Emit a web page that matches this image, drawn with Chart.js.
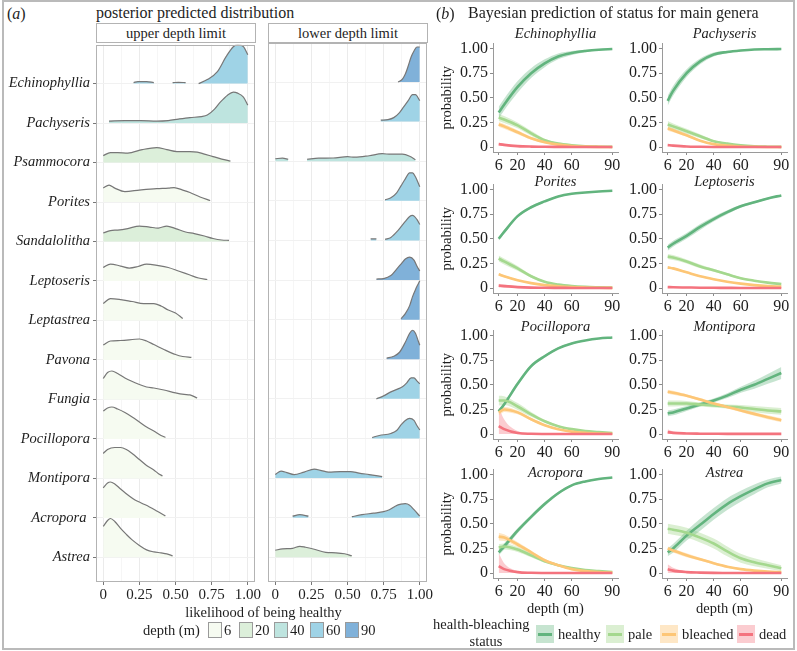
<!DOCTYPE html>
<html>
<head>
<meta charset="utf-8">
<title>Coral health by depth</title>
<script src="https://cdn.jsdelivr.net/npm/chart.js@4.4.1/dist/chart.umd.min.js"></script>
<style>
  body { margin: 0; background: #fff; }
  #fig { position: relative; width: 797px; height: 651px; overflow: hidden; background: #fff;
         font-family: "Liberation Serif", "DejaVu Serif", serif; color: #1e1e1e; }
  #fig canvas { position: absolute; }
  .txt { position: absolute; white-space: nowrap; line-height: 1; }
  .frame { position: absolute; left: 2px; top: 0; width: 793px; height: 650px; box-sizing: border-box;
           border: 2px solid #bababa; }
  .strip { position: absolute; top: 23px; height: 20px; width: 160px; box-sizing: border-box;
           border: 1px solid #b3b3b3; background: #fff; text-align: center; font-size: 14.5px; line-height: 18px; }
  .key { position: absolute; box-sizing: border-box; }
</style>
</head>
<body>
<div id="fig">
  <div class="frame"></div>
  <div class="strip" style="left:96px">upper depth limit</div>
  <div class="strip" style="left:268px">lower depth limit</div>
</div>
<script>
// ---------- panel (a): posterior predicted distribution (ridges) ----------
const genera = ['Echinophyllia', 'Pachyseris', 'Psammocora', 'Porites', 'Sandalolitha', 'Leptoseris',
  'Leptastrea', 'Pavona', 'Fungia', 'Pocillopora', 'Montipora', 'Acropora ', 'Astrea'];
const ridgeTicks = [0, 0.25, 0.5, 0.75, 1];
const ridgeGrid = [0, 0.125, 0.25, 0.375, 0.5, 0.625, 0.75, 0.875, 1];
const depthLevels = [6, 20, 40, 60, 90];
// depth class of each ridge (same order as genera)
const upperDepth = [60, 40, 20, 6, 20, 6, 6, 6, 6, 6, 6, 6, 6];
const lowerDepth = [90, 60, 40, 60, 60, 90, 90, 90, 60, 60, 60, 60, 20];

// [likelihood, density]; a null density breaks the ridge
const upperRidges = [
  [[0.21,0.1],[0.24,0.2],[0.3,0.2],[0.35,0.1],[0.42,null],[0.48,0.1],[0.52,0.12],[0.57,0.1],[0.62,null],[0.66,0],[0.72,0.4],[0.79,1.2],[0.85,2.7],[0.9,3.7],[0.93,3.9],[0.97,3.7],[1,2.9]],
  [[0.04,0.2],[0.15,0.25],[0.26,0.25],[0.37,0.2],[0.45,0.25],[0.52,0.4],[0.6,0.55],[0.68,0.65],[0.72,0.8],[0.77,1.4],[0.81,2.1],[0.86,2.8],[0.9,3.1],[0.93,3.0],[0.97,2.6],[1,1.8]],
  [[0,0.7],[0.05,1.0],[0.1,1.0],[0.17,0.95],[0.27,1.3],[0.37,1.5],[0.44,1.3],[0.51,1.1],[0.6,1.1],[0.65,1.05],[0.7,0.85],[0.76,0.6],[0.82,0.35],[0.88,0.15]],
  [[0,1.4],[0.04,1.7],[0.08,1.4],[0.15,1.05],[0.25,1.2],[0.37,1.35],[0.45,1.4],[0.49,1.45],[0.55,1.2],[0.6,0.95],[0.67,0.5],[0.74,0.15]],
  [[0,0.85],[0.05,1.1],[0.1,1.15],[0.17,1.3],[0.25,1.55],[0.32,1.45],[0.38,1.35],[0.44,1.55],[0.5,1.3],[0.57,0.95],[0.63,0.8],[0.7,0.55],[0.76,0.3],[0.82,0.15],[0.87,0.12]],
  [[0,1.35],[0.05,1.7],[0.12,1.5],[0.18,1.3],[0.24,1.45],[0.3,1.7],[0.38,1.55],[0.45,1.35],[0.52,1.0],[0.6,0.6],[0.66,0.3],[0.72,0.15]],
  [[0,1.7],[0.05,2.2],[0.12,2.1],[0.2,1.9],[0.28,1.7],[0.35,1.7],[0.4,1.45],[0.45,1.05],[0.5,0.75],[0.55,0.2]],
  [[0,1.5],[0.05,1.9],[0.12,1.95],[0.25,2.1],[0.3,1.9],[0.35,1.55],[0.42,1.05],[0.5,0.55],[0.55,0.35],[0.61,0.25]],
  [[0,2.1],[0.03,2.7],[0.06,2.85],[0.1,2.6],[0.15,2.15],[0.25,1.5],[0.3,1.25],[0.35,1.15],[0.42,0.95],[0.5,0.65],[0.56,0.5],[0.6,0.45],[0.65,0.15]],
  [[0,2.8],[0.03,3.1],[0.06,3.2],[0.1,3.0],[0.15,2.65],[0.2,2.2],[0.25,1.7],[0.3,1.2],[0.35,0.8],[0.4,0.35],[0.43,0.15]],
  [[0,2.5],[0.03,2.9],[0.08,3.1],[0.12,3.1],[0.16,2.9],[0.2,2.5],[0.25,1.9],[0.3,1.3],[0.35,0.85],[0.38,0.5],[0.41,0.25]],
  [[0,3.0],[0.03,3.5],[0.05,3.6],[0.08,3.4],[0.12,2.9],[0.18,2.2],[0.22,1.8],[0.27,1.45],[0.32,1.1],[0.37,0.7],[0.43,0.2]],
  [[0,3.1],[0.03,3.7],[0.05,3.9],[0.08,3.6],[0.12,2.9],[0.16,2.3],[0.2,1.75],[0.25,1.2],[0.3,0.75],[0.35,0.55],[0.4,0.45],[0.44,0.35],[0.48,0.15]]
];
const lowerRidges = [
  [[0.85,0],[0.88,0.3],[0.9,0.8],[0.92,1.6],[0.94,2.5],[0.96,3.1],[0.98,3.5],[1,3.5]],
  [[0.73,0.15],[0.78,0.2],[0.82,0.4],[0.86,0.9],[0.89,1.5],[0.92,2.1],[0.95,2.7],[0.97,2.7],[1,2.1]],
  [[0,0.25],[0.05,0.3],[0.09,0.2],[0.15,null],[0.22,0.2],[0.3,0.3],[0.4,0.32],[0.5,0.45],[0.55,0.4],[0.65,0.55],[0.74,0.75],[0.8,0.7],[0.88,0.7],[0.93,0.5],[0.97,0.15]],
  [[0.76,0.1],[0.8,0.3],[0.84,0.8],[0.87,1.5],[0.9,2.2],[0.93,2.8],[0.95,2.8],[0.97,2.4],[1,1.4]],
  [[0.66,0.15],[0.7,0.15],[0.73,null],[0.76,0.1],[0.8,0.3],[0.85,1.0],[0.9,1.9],[0.93,2.4],[0.95,2.5],[0.98,2.1],[1,1.6]],
  [[0.7,0.1],[0.75,0.15],[0.8,0.45],[0.84,1.1],[0.87,1.6],[0.9,2.1],[0.93,2.3],[0.96,2.0],[0.98,1.4],[1,0.9]],
  [[0.87,0.1],[0.9,0.6],[0.93,1.4],[0.95,2.3],[0.97,3.0],[0.99,3.6],[1,3.9]],
  [[0.77,0.1],[0.82,0.3],[0.86,0.7],[0.9,1.7],[0.93,2.6],[0.95,2.9],[0.97,2.6],[0.99,1.8],[1,1.4]],
  [[0.7,0],[0.75,0.3],[0.8,0.7],[0.85,1.0],[0.88,1.2],[0.91,1.6],[0.94,2.1],[0.96,2.1],[0.98,1.8],[1,1.5]],
  [[0.67,0.1],[0.72,0.3],[0.8,0.5],[0.84,0.8],[0.87,1.35],[0.9,1.8],[0.93,2.0],[0.96,1.8],[0.98,1.3],[1,0.85]],
  [[0,0.35],[0.04,0.7],[0.08,0.55],[0.13,0.35],[0.2,0.6],[0.27,0.9],[0.32,0.75],[0.37,0.6],[0.45,0.65],[0.52,0.65],[0.58,0.5],[0.65,0.35],[0.74,0.15]],
  [[0.12,0.15],[0.17,0.3],[0.23,0.15],[0.4,null],[0.53,0.1],[0.6,0.3],[0.68,0.45],[0.75,0.6],[0.79,0.8],[0.83,1.15],[0.87,1.35],[0.9,1.4],[0.93,1.25],[0.96,0.8],[1,0.15]],
  [[0,0.7],[0.05,0.85],[0.12,0.9],[0.17,1.1],[0.21,1.0],[0.27,0.8],[0.35,0.5],[0.42,0.45],[0.48,0.35],[0.53,0.15]]
];

// ---------- panel (b): Bayesian prediction of status ----------
const depthGrid = [6, 10, 20, 30, 40, 50, 60, 70, 80, 90];
const depthTicks = [6, 20, 40, 60, 90];
const probTicks = [0, 0.25, 0.5, 0.75, 1];
const statuses = ['healthy', 'pale', 'bleached', 'dead'];
const panelGenera = ['Echinophyllia', 'Pachyseris', 'Porites', 'Leptoseris', 'Pocillopora', 'Montipora', 'Acropora', 'Astrea'];

// rows: healthy, pale, bleached, dead (posterior mean), and half width of the credible band
const echinophylliaMean = [
  [0.35,0.43,0.61,0.75,0.85,0.92,0.955,0.975,0.988,0.995],
  [0.30,0.28,0.22,0.14,0.07,0.035,0.018,0.008,0.004,0.002],
  [0.23,0.21,0.15,0.09,0.05,0.025,0.01,0.005,0.002,0.001],
  [0.03,0.022,0.01,0.005,0.003,0.002,0.001,0.001,0,0]];
const echinophylliaBand = [
  [0.06,0.06,0.06,0.05,0.04,0.03,0.02,0.012,0.008,0.005],
  [0.035,0.035,0.03,0.025,0.015,0.01,0.006,0.003,0.002,0.001],
  [0.025,0.025,0.02,0.015,0.01,0.006,0.003,0.002,0.001,0.001],
  [0.015,0.012,0.006,0.003,0.002,0.001,0.001,0,0,0]];
const pachyserisMean = [
  [0.47,0.57,0.75,0.87,0.94,0.965,0.98,0.99,0.993,0.995],
  [0.23,0.21,0.16,0.11,0.06,0.035,0.018,0.008,0.004,0.002],
  [0.19,0.17,0.12,0.065,0.03,0.015,0.006,0.003,0.001,0],
  [0.02,0.015,0.006,0.003,0.001,0,0,0,0,0]];
const pachyserisBand = [
  [0.05,0.05,0.04,0.03,0.02,0.012,0.008,0.005,0.004,0.003],
  [0.035,0.03,0.025,0.02,0.012,0.008,0.005,0.003,0.002,0.001],
  [0.025,0.02,0.015,0.01,0.006,0.004,0.002,0.001,0.001,0],
  [0.01,0.008,0.004,0.002,0.001,0,0,0,0,0]];
const poritesMean = [
  [0.50,0.57,0.73,0.82,0.88,0.93,0.957,0.97,0.98,0.987],
  [0.30,0.27,0.20,0.12,0.063,0.035,0.02,0.012,0.008,0.005],
  [0.14,0.12,0.08,0.05,0.03,0.018,0.01,0.006,0.003,0.002],
  [0.025,0.02,0.01,0.005,0.003,0.002,0.001,0,0,0]];
const poritesBand = [
  [0.02,0.02,0.015,0.012,0.01,0.008,0.006,0.005,0.004,0.004],
  [0.03,0.03,0.025,0.015,0.01,0.006,0.004,0.003,0.002,0.002],
  [0.012,0.01,0.008,0.006,0.004,0.003,0.002,0.001,0.001,0.001],
  [0.02,0.015,0.006,0.003,0.002,0.001,0,0,0,0]];
const leptoserisMean = [
  [0.41,0.45,0.53,0.62,0.70,0.77,0.83,0.87,0.91,0.94],
  [0.32,0.31,0.27,0.22,0.18,0.14,0.10,0.075,0.055,0.04],
  [0.21,0.20,0.16,0.12,0.09,0.065,0.045,0.03,0.02,0.015],
  [0.01,0.008,0.006,0.004,0.003,0.002,0.001,0.001,0,0]];
const leptoserisBand = [
  [0.03,0.03,0.03,0.03,0.025,0.02,0.015,0.012,0.01,0.008],
  [0.025,0.025,0.02,0.02,0.015,0.012,0.01,0.008,0.006,0.005],
  [0.012,0.012,0.01,0.008,0.007,0.005,0.004,0.003,0.002,0.002],
  [0.005,0.004,0.003,0.002,0.002,0.001,0.001,0,0,0]];
const pocilloporaMean = [
  [0.23,0.30,0.51,0.69,0.79,0.87,0.92,0.95,0.97,0.98],
  [0.34,0.34,0.28,0.20,0.13,0.08,0.05,0.03,0.02,0.01],
  [0.22,0.25,0.22,0.15,0.09,0.05,0.025,0.012,0.006,0.003],
  [0.08,0.05,0.01,0.003,0.001,0,0,0,0,0]];
const pocilloporaBand = [
  [0.02,0.02,0.02,0.018,0.015,0.01,0.008,0.005,0.004,0.003],
  [0.05,0.045,0.035,0.025,0.015,0.01,0.006,0.004,0.003,0.002],
  [0.03,0.025,0.02,0.015,0.01,0.006,0.004,0.002,0.001,0.001],
  [0.2,0.1,0.02,0.005,0.002,0,0,0,0,0]];
const montiporaMean = [
  [0.21,0.22,0.26,0.30,0.34,0.39,0.45,0.50,0.56,0.62],
  [0.31,0.31,0.31,0.30,0.29,0.28,0.27,0.255,0.24,0.23],
  [0.43,0.42,0.39,0.35,0.31,0.275,0.24,0.205,0.17,0.14],
  [0.02,0.012,0.006,0.004,0.003,0.002,0.002,0.002,0.002,0.002]];
const montiporaBand = [
  [0.03,0.03,0.025,0.02,0.02,0.025,0.03,0.04,0.05,0.06],
  [0.03,0.03,0.025,0.02,0.02,0.02,0.025,0.03,0.035,0.035],
  [0.02,0.02,0.015,0.015,0.015,0.015,0.015,0.02,0.02,0.02],
  [0.03,0.015,0.005,0.003,0.002,0.001,0.001,0.001,0.001,0.001]];
const acroporaMean = [
  [0.21,0.27,0.43,0.57,0.70,0.81,0.89,0.93,0.955,0.97],
  [0.26,0.27,0.24,0.18,0.12,0.08,0.05,0.03,0.02,0.01],
  [0.37,0.36,0.29,0.21,0.13,0.08,0.04,0.02,0.01,0.005],
  [0.07,0.04,0.01,0.003,0.001,0,0,0,0,0]];
const acroporaBand = [
  [0.03,0.03,0.025,0.02,0.02,0.015,0.01,0.008,0.006,0.005],
  [0.035,0.03,0.025,0.02,0.015,0.01,0.007,0.005,0.003,0.002],
  [0.04,0.035,0.025,0.02,0.015,0.01,0.006,0.004,0.002,0.001],
  [0.13,0.06,0.012,0.004,0.002,0,0,0,0,0]];
const astreaMean = [
  [0.21,0.25,0.38,0.49,0.60,0.70,0.78,0.85,0.91,0.945],
  [0.45,0.44,0.41,0.36,0.30,0.22,0.15,0.11,0.08,0.05],
  [0.25,0.23,0.18,0.14,0.10,0.065,0.04,0.025,0.015,0.01],
  [0.04,0.025,0.01,0.005,0.002,0.001,0,0,0,0]];
const astreaBand = [
  [0.04,0.045,0.05,0.06,0.06,0.06,0.055,0.05,0.04,0.035],
  [0.05,0.05,0.05,0.05,0.05,0.05,0.045,0.04,0.035,0.03],
  [0.02,0.02,0.02,0.015,0.012,0.01,0.008,0.006,0.005,0.004],
  [0.05,0.03,0.01,0.005,0.002,0.001,0,0,0,0]];

const statusMeans = [echinophylliaMean, pachyserisMean, poritesMean, leptoserisMean,
  pocilloporaMean, montiporaMean, acroporaMean, astreaMean];
const statusBands = [echinophylliaBand, pachyserisBand, poritesBand, leptoserisBand,
  pocilloporaBand, montiporaBand, acroporaBand, astreaBand];

// ---------- styles ----------
const serif = 'Liberation Serif';
const ink = '#1e1e1e';
const depthColors = ['#f6fbf1', '#dcefda', '#bee4df', '#9fd3e6', '#80b1d9'];
const lineColors = ['#62b47e', '#a4d88e', '#fdc676', '#f4737e'];
const ribbonColors = ['rgba(98,180,126,0.36)', 'rgba(164,216,142,0.4)', 'rgba(253,198,118,0.42)', 'rgba(244,115,126,0.36)'];
const ridgeScale = 10 / 39.6; // one density unit, in rows

Chart.defaults.font.family = serif;
Chart.defaults.color = ink;

const fig = document.getElementById('fig');

function font(size, style) {
  return { family: serif, size: size, style: style || 'normal', weight: 'normal' };
}

function makeCanvas(left, top, width, height) {
  const c = document.createElement('canvas');
  c.width = width; c.height = height;
  c.style.left = left + 'px'; c.style.top = top + 'px';
  c.style.width = width + 'px'; c.style.height = height + 'px';
  fig.appendChild(c);
  return c;
}

function addText(html, x, y, size, align = 'left', extra = '') {
  const el = document.createElement('div');
  el.className = 'txt';
  el.innerHTML = html;
  el.style.left = x + 'px';
  el.style.top = y + 'px';
  el.style.fontSize = size + 'px';
  el.style.transform = `translate(${align === 'center' ? '-50%' : '0'}, -50%)`;
  if (extra) el.style.cssText += extra;
  fig.appendChild(el);
}

// grey border round a facet
const panelBorder = {
  id: 'panelBorder',
  afterDatasetsDraw(chart) {
    const { ctx, chartArea: a } = chart;
    ctx.save();
    ctx.strokeStyle = '#b3b3b3';
    ctx.lineWidth = 1;
    ctx.strokeRect(Math.round(a.left) + 0.5, Math.round(a.top) + 0.5,
      Math.round(a.right - a.left) - 1, Math.round(a.bottom - a.top) - 1);
    ctx.restore();
  }
};

/**
 * One facet of the ridgeline panel.
 */
function ridgeChart(ridges, depths, plotLeft, withLabels) {
  const yW = withLabels ? 96 : 0;
  const padLeft = withLabels ? 0 : 10;
  const canvas = makeCanvas(plotLeft - yW - padLeft, 33, padLeft + yW + 159 + 14, 10 + 539 + 26);
  const datasets = ridges.map((pts, i) => {
    const row = genera.length - i;
    return {
      data: pts.map(([x, d]) => ({ x: x, y: d === null ? null : row + d * ridgeScale })),
      borderColor: '#777777',
      borderWidth: 1.2,
      backgroundColor: depthColors[depthLevels.indexOf(depths[i])],
      fill: { value: row },
      pointRadius: 0,
      spanGaps: false,
      cubicInterpolationMode: 'monotone',
      order: row
    };
  });
  return new Chart(canvas, {
    type: 'line',
    data: { datasets: datasets },
    plugins: [panelBorder],
    options: {
      responsive: false, animation: false, events: [],
      layout: { padding: { top: 10, right: 14, left: padLeft, bottom: 0 } },
      plugins: { legend: { display: false }, tooltip: { enabled: false } },
      scales: {
        x: {
          type: 'linear', min: -0.05, max: 1.05,
          afterBuildTicks: ax => { ax.ticks = ridgeGrid.map(v => ({ value: v })); },
          ticks: {
            callback: v => ridgeTicks.includes(v) ? (v === 0 ? '0' : v.toFixed(2)) : '',
            font: font(15), color: ink, padding: 1, maxRotation: 0, autoSkip: false
          },
          grid: {
            color: c => ridgeTicks.includes(c.tick.value) ? '#ebebeb' : '#f6f6f6',
            tickColor: c => ridgeTicks.includes(c.tick.value) ? '#777' : 'rgba(0,0,0,0)',
            tickLength: 3
          },
          border: { display: false },
          afterFit: ax => { ax.height = 26; }
        },
        y: {
          type: 'linear', min: 0.376, max: 13.985,
          afterBuildTicks: ax => { ax.ticks = genera.map((g, i) => ({ value: genera.length - i })); },
          ticks: {
            display: withLabels,
            callback: v => genera[genera.length - v],
            font: font(14.5, 'italic'), color: ink, padding: 3
          },
          grid: { color: '#f1f1f1', tickColor: '#777', tickLength: 3, drawTicks: withLabels },
          border: { display: false },
          afterFit: ax => { ax.width = yW; }
        }
      }
    }
  });
}

ridgeChart(upperRidges, upperDepth, 96, true);
ridgeChart(lowerRidges, lowerDepth, 268, false);

/**
 * One small panel of status probabilities against depth.
 */
const plotLefts = [493, 662];
const plotTops = [42, 183, 329, 468];

function statusChart(idx) {
  const col = idx % 2, row = Math.floor(idx / 2);
  const means = statusMeans[idx], bands = statusBands[idx];
  const canvas = makeCanvas(plotLefts[col] - 63, plotTops[row] - 10, 63 + 125 + 12, 10 + 110 + 40);
  const datasets = [];
  statuses.forEach((s, k) => {
    datasets.push({
      data: depthGrid.map((d, i) => ({ x: d, y: Math.min(1, means[k][i] + bands[k][i]) })),
      fill: '+1', backgroundColor: ribbonColors[k], borderColor: 'rgba(0,0,0,0)', borderWidth: 0,
      pointRadius: 0, cubicInterpolationMode: 'monotone', order: 20
    });
    datasets.push({
      data: depthGrid.map((d, i) => ({ x: d, y: Math.max(0, means[k][i] - bands[k][i]) })),
      fill: false, borderColor: 'rgba(0,0,0,0)', borderWidth: 0,
      pointRadius: 0, cubicInterpolationMode: 'monotone', order: 20
    });
  });
  statuses.forEach((s, k) => {
    datasets.push({
      label: s,
      data: depthGrid.map((d, i) => ({ x: d, y: means[k][i] })),
      fill: false, borderColor: lineColors[k], borderWidth: 2.6,
      pointRadius: 0, cubicInterpolationMode: 'monotone', order: 4 - k
    });
  });
  new Chart(canvas, {
    type: 'line',
    data: { datasets: datasets },
    options: {
      responsive: false, animation: false, events: [],
      layout: { padding: { top: 10, right: 12, left: 0, bottom: 0 } },
      plugins: { legend: { display: false }, tooltip: { enabled: false } },
      scales: {
        x: {
          type: 'linear', min: 1.8, max: 94.2,
          afterBuildTicks: ax => { ax.ticks = depthTicks.map(v => ({ value: v })); },
          ticks: { font: font(16), color: ink, padding: 1, maxRotation: 0, autoSkip: false },
          grid: { drawOnChartArea: false, tickLength: 3, tickColor: '#8a8a8a' },
          border: { display: true, color: '#9a9a9a', width: 1 },
          title: { display: row === 3, text: 'depth (m)', font: font(14.5), color: ink, padding: { top: 0, bottom: 0 } },
          afterFit: ax => { ax.height = 40; }
        },
        y: {
          type: 'linear', min: -0.05, max: 1.05,
          afterBuildTicks: ax => { ax.ticks = probTicks.map(v => ({ value: v })); },
          ticks: { callback: v => v === 0 ? '0' : v.toFixed(2), font: font(16), color: ink, padding: 2 },
          grid: { drawOnChartArea: false, tickLength: 3, tickColor: '#8a8a8a' },
          border: { display: true, color: '#9a9a9a', width: 1 },
          title: { display: col === 0, text: 'probability', font: font(14.5), color: ink, padding: { top: 8.6, bottom: 0 } },
          afterFit: ax => { ax.width = 63; }
        }
      }
    }
  });
  addText(panelGenera[idx], plotLefts[col] + 62.5, [33, 181, 326, 472][row], 14.5, 'center', 'font-style:italic');
}

panelGenera.forEach((g, i) => statusChart(i));

// ---------- titles, axis title, legends ----------
addText('(<i>a</i>)', 7, 14, 16);
addText('posterior predicted distribution', 96, 13, 16);
addText('(<i>b</i>)', 436, 14, 16);
addText('Bayesian prediction of status for main genera', 468, 13, 16);
addText('likelihood of being healthy', 263.5, 612, 14.5, 'center');

addText('depth (m)', 143, 630, 14.5);
const depthKeyLefts = [208, 239, 274, 310, 345];
depthLevels.forEach((d, i) => {
  const k = document.createElement('div');
  k.className = 'key';
  k.style.cssText += `left:${depthKeyLefts[i]}px;top:622px;width:14px;height:16px;border:1px solid #9a9a9a;background:${depthColors[i]}`;
  fig.appendChild(k);
  addText(String(d), depthKeyLefts[i] + 16, 630, 14.5);
});

addText('health-bleaching', 433, 624, 14.5);
addText('status', 486, 641, 14.5, 'center');
const statusKeyLefts = [536, 606, 660, 737];
statuses.forEach((s, i) => {
  const k = document.createElement('div');
  k.className = 'key';
  k.style.cssText += `left:${statusKeyLefts[i]}px;top:625px;width:18px;height:18px;background:${ribbonColors[i]}`;
  const ln = document.createElement('div');
  ln.style.cssText = `position:absolute;left:2px;right:2px;top:8px;height:2.5px;background:${lineColors[i]}`;
  k.appendChild(ln);
  fig.appendChild(k);
  addText(s, statusKeyLefts[i] + 22, 634, 14.5);
});
</script>
</body>
</html>
